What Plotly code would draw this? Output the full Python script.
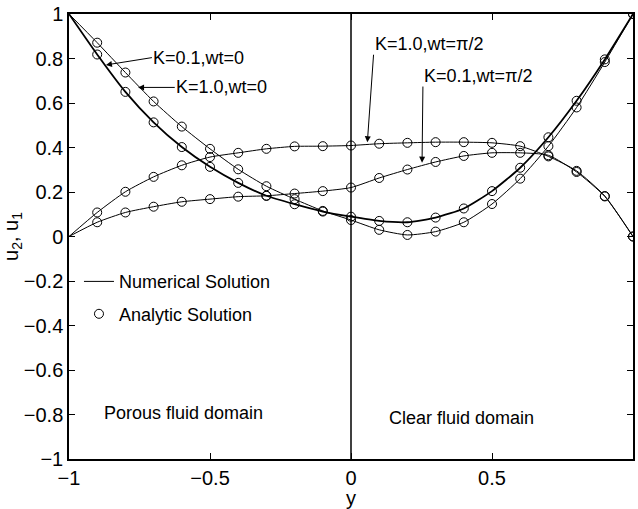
import plotly.graph_objects as go

# ---------------- data ----------------
y_grid = [-1.0, -0.9, -0.8, -0.7, -0.6, -0.5, -0.4, -0.3, -0.2, -0.1, 0.0,
          0.1, 0.2, 0.3, 0.4, 0.5, 0.6, 0.7, 0.8, 0.9, 1.0]

u_k01_wt0 = [1.0, 0.818, 0.650, 0.513, 0.402, 0.313, 0.241, 0.183, 0.145, 0.112, 0.089,
             0.070, 0.064, 0.085, 0.126, 0.204, 0.309, 0.446, 0.610, 0.796, 1.0]
u_k10_wt0 = [1.0, 0.871, 0.737, 0.607, 0.494, 0.394, 0.302, 0.226, 0.168, 0.115, 0.074,
             0.030, 0.007, 0.022, 0.064, 0.146, 0.260, 0.406, 0.580, 0.784, 1.0]
u_k10_wtpi2 = [0.0, 0.108, 0.201, 0.268, 0.320, 0.357, 0.376, 0.394, 0.405, 0.406, 0.409,
               0.417, 0.421, 0.424, 0.424, 0.421, 0.406, 0.360, 0.295, 0.182, 0.0]
u_k01_wtpi2 = [0.0, 0.064, 0.108, 0.134, 0.156, 0.168, 0.179, 0.183, 0.193, 0.204, 0.220,
               0.263, 0.301, 0.335, 0.362, 0.376, 0.376, 0.365, 0.290, 0.180, 0.0]

curves = [
    ("K=0.1,wt=0", u_k01_wt0, 1.8),
    ("K=1.0,wt=0", u_k10_wt0, 1.0),
    ("K=1.0,wt=π/2", u_k10_wtpi2, 1.0),
    ("K=0.1,wt=π/2", u_k01_wtpi2, 1.0),
]

FONT = "Liberation Sans, Arial, Helvetica, sans-serif"
fig = go.Figure()

for i, (name, vals, lw) in enumerate(curves):
    fig.add_trace(go.Scatter(
        x=y_grid, y=vals, mode="lines",
        line=dict(color="black", width=lw, shape="spline", smoothing=0.6),
        name="Numerical Solution", showlegend=(i == 1), legendgroup="num",
        hoverinfo="skip"))
for i, (name, vals, lw) in enumerate(curves):
    fig.add_trace(go.Scatter(
        x=y_grid[1:], y=vals[1:], mode="markers",
        marker=dict(symbol="circle-open", size=9, color="black", line=dict(width=1)),
        name="Analytic Solution", showlegend=(i == 1), legendgroup="ana",
        hoverinfo="skip"))

# interface line at y = 0
fig.add_shape(type="line", x0=0, x1=0, y0=-1, y1=1, xref="x", yref="y",
              line=dict(color="black", width=1.5))

# labels with arrows: text, anchor x, anchor y, xanchor, yanchor, tip x, tip y
arrows = [
    ("K=0.1,wt=0", -0.706, 0.804, "left", "middle", -0.869, 0.771),
    ("K=1.0,wt=0", -0.625, 0.670, "left", "middle", -0.755, 0.670),
    ("K=1.0,wt=π/2", 0.080, 0.817, "left", "bottom", 0.058, 0.424),
    ("K=0.1,wt=π/2", 0.255, 0.674, "left", "bottom", 0.252, 0.332),
]
for txt, ax, ay, xa, ya, hx, hy in arrows:
    fig.add_annotation(x=hx, y=hy, ax=ax, ay=ay, xref="x", yref="y",
                       axref="x", ayref="y", text=txt, showarrow=True,
                       xanchor=xa, yanchor=ya,
                       arrowhead=2, arrowsize=1.2, arrowwidth=1, arrowcolor="black",
                       standoff=0, startstandoff=0, borderpad=0,
                       font=dict(family=FONT, size=18, color="black"))

fig.add_annotation(x=-0.883, y=-0.795, xref="x", yref="y", text="Porous fluid domain",
                   showarrow=False, xanchor="left", yanchor="middle",
                   font=dict(family=FONT, size=18, color="black"))
fig.add_annotation(x=0.127, y=-0.817, xref="x", yref="y", text="Clear fluid domain",
                   showarrow=False, xanchor="left", yanchor="middle",
                   font=dict(family=FONT, size=18, color="black"))

axis_common = dict(
    range=[-1, 1], showgrid=False, zeroline=False, showline=True,
    linecolor="black", linewidth=1.5, mirror="ticks", ticks="inside",
    ticklen=6, tickcolor="black", tickwidth=1,
    tickfont=dict(family=FONT, size=20, color="black"),
)

fig.update_layout(
    width=638, height=509,
    margin=dict(l=69, r=3, t=11, b=50),
    paper_bgcolor="white", plot_bgcolor="white",
    font=dict(family=FONT, size=18, color="black"),
    xaxis=dict(**axis_common, tickvals=[-1, -0.5, 0, 0.5, 1],
               title=dict(text="y", font=dict(family=FONT, size=20), standoff=2)),
    yaxis=dict(**axis_common, tick0=-1, dtick=0.2,
               title=dict(text="u<sub>2</sub>, u<sub>1</sub>",
                          font=dict(family=FONT, size=20), standoff=2)),
    legend=dict(x=0.0177, y=0.44, xanchor="left", yanchor="top",
                bgcolor="rgba(0,0,0,0)", borderwidth=0,
                font=dict(family=FONT, size=18, color="black"),
                tracegroupgap=6),
    showlegend=True,
)

fig.write_html("out.html")
